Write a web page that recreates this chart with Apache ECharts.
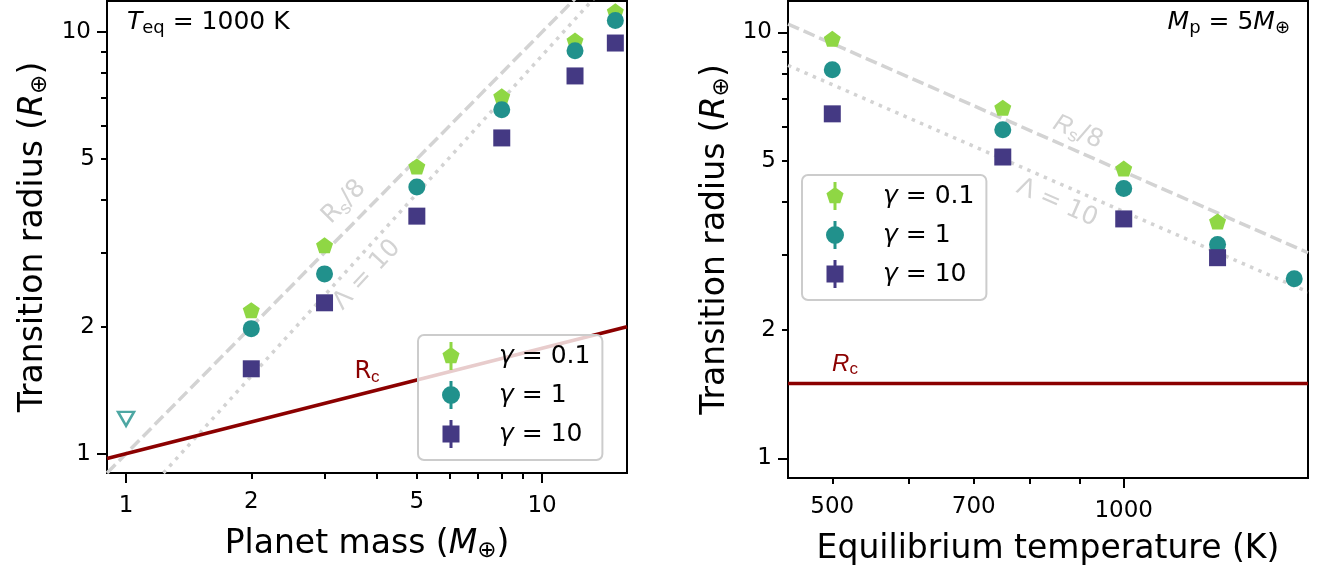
<!DOCTYPE html>
<html>
<head>
<meta charset="utf-8">
<script src="https://cdn.jsdelivr.net/npm/echarts@6/dist/echarts.min.js"></script>
<style>
html,body{margin:0;padding:0;background:#fff;}
#chart{width:1321px;height:571px;}
</style>
</head>
<body>
<div id="chart"></div>
<script>
// 左图: 行星质量
const massX = [2, 3, 5, 8, 12, 15];
const massG01 = [2.19, 3.12, 4.80, 7.04, 9.55, 11.2];
const massG1 = [1.98, 2.67, 4.29, 6.54, 9.03, 10.65];
const massG10 = [1.59, 2.28, 3.66, 5.61, 7.87, 9.42];
const limitX = [1];
const limitY = [1.21];
const rcMassX = [0.9, 16];
const rcMassY = [0.974, 2.0];
const rsMassX = [0.9, 12];
const rsMassY = [0.9, 12];
const lamMassX = [1.23, 13.3];
const lamMassY = [0.9, 12];

// 右图: 平衡温度
const tempX = [500, 750, 1000, 1250, 1500];
const tempG01 = [9.66, 6.66, 4.79, 3.60, null];
const tempG1 = [8.17, 5.91, 4.30, 3.18, 2.64];
const tempG10 = [6.44, 5.10, 3.65, 2.96, null];
const rcTempX = [450, 1550];
const rcTempY = [1.5, 1.5];
const rsTempX = [450, 1550];
const rsTempY = [10.46, 3.04];
const lamTempX = [450, 1550];
const lamTempY = [8.37, 2.46];

// 刻度
const massMajor = [1, 10];
const massMinor = [2, 3, 4, 5, 6, 7, 8, 9];
const massMinorLabels = [2, 5];
const tempMajor = [1000];
const tempMinor = [500, 600, 700, 800, 900];
const tempMinorLabels = [500, 700];
const radMajor = [1, 10];
const radMinor = [2, 3, 4, 5, 6, 7, 8, 9];
const radMinorLabels = [2, 5];

const FONT = 'DejaVu Sans';
const C01 = '#8fd744', C1 = '#21918c', C10 = '#443983';
const GRAY = '#d3d3d3', DARKRED = '#8b0000';

const lg = v => Math.log10(v);
function pairs(xs, ys){
    let out = [];
    for(let i=0;i<xs.length;i++){
        if(ys[i] != null) out.push([lg(xs[i]), lg(ys[i])]);
    }
    return out;
}

const rich = {
    i: {fontStyle:'italic', fontSize:25, fontFamily:FONT, color:'#000', lineHeight:30},
    s: {fontSize:18, fontFamily:FONT, color:'#000', verticalAlign:'bottom', lineHeight:14},
    bi: {fontStyle:'italic', fontSize:33, fontFamily:FONT, color:'#000', lineHeight:38},
    bs: {fontSize:23, fontFamily:FONT, color:'#000', verticalAlign:'bottom', lineHeight:16},
    g: {width:34},
};

function axis(gridIndex, pos, lo, hi, ticks, labels, tickLen, margin, extra){
    return Object.assign({
        type:'value',
        gridIndex:gridIndex,
        position:pos,
        min:lg(lo), max:lg(hi),
        axisLine:{show:false, onZero:false},
        splitLine:{show:false},
        axisTick:{show:true, length:tickLen, customValues:ticks.map(lg), lineStyle:{color:'#000', width:2}},
        axisLabel:{show:true, customValues:labels.map(lg), margin:margin, fontSize:23, fontFamily:FONT, color:'#000',
            formatter: v => String(Math.round(Math.pow(10, v)))},
    }, extra || {});
}

const nameStyle = {fontSize:33, fontFamily:FONT, color:'#000', lineHeight:38, rich:rich};

let myChart = echarts.init(document.getElementById('chart'));

const pentPath = 'path://M10 5 L18.56 11.22 L15.29 21.28 L4.71 21.28 L1.44 11.22 Z';
const pentLegend = 'path://M10 5 L18.56 11.22 L15.29 21.28 L4.71 21.28 L1.44 11.22 Z M8.5 0 L11.5 0 L11.5 28 L8.5 28 Z';
const circLegend = 'path://M1 14 A9 9 0 1 1 19 14 A9 9 0 1 1 1 14 Z M8.5 0 L11.5 0 L11.5 28 L8.5 28 Z';
const rectLegend = 'path://M1.5 5.5 L18.5 5.5 L18.5 22.5 L1.5 22.5 Z M8.5 0 L11.5 0 L11.5 28 L8.5 28 Z';

function scatter(name, xi, data, symbol, size, color){
    return {type:'scatter', name:name, xAxisIndex:xi, yAxisIndex:xi, data:data,
        symbol:symbol, symbolSize:size, itemStyle:{color:color, opacity:1}, z:3, silent:true};
}
function line(xi, data, color, width, type){
    return {type:'line', xAxisIndex:xi, yAxisIndex:xi, data:data, showSymbol:false, symbol:'none',
        lineStyle:{color:color, width:width, type:type, cap:'butt'}, z:2, silent:true};
}

const legendBase = {
    orient:'vertical', itemWidth:18, itemHeight:28, itemGap:11,
    backgroundColor:'rgba(255,255,255,0.8)', borderColor:'#cccccc', borderWidth:2, borderRadius:6,
    selectedMode:false, z:10,
    textStyle:{fontSize:25, fontFamily:FONT, color:'#000', rich:rich},
    formatter: name => '{g| }' + name.replace('γ', '{i|γ}'),
    data:[{name:'γ = 0.1', icon:pentLegend}, {name:'γ = 1', icon:circLegend}, {name:'γ = 10', icon:rectLegend}],
};

myChart.setOption({
    animation:false,
    textStyle:{fontFamily:FONT},
    grid:[
        {left:107, top:1, width:520, height:472, show:true, borderColor:'#000', borderWidth:2, containLabel:false, outerBoundsMode:'none'},
        {left:788, top:1, width:520, height:477, show:true, borderColor:'#000', borderWidth:2, containLabel:false, outerBoundsMode:'none'},
    ],
    xAxis:[
        axis(0, 'bottom', 0.9, 16, massMinor, massMinorLabels, 6, 18),
        axis(0, 'bottom', 0.9, 16, massMajor, massMajor, 10, 22,
            {name:'Planet mass ({bi|M}{bs|⊕})', nameLocation:'middle', nameGap:52, nameTextStyle:nameStyle}),
        axis(1, 'bottom', 450, 1550, tempMinor, tempMinorLabels, 6, 18),
        axis(1, 'bottom', 450, 1550, tempMajor, tempMajor, 10, 22,
            {name:'Equilibrium temperature (K)', nameLocation:'middle', nameGap:52, nameTextStyle:nameStyle}),
    ],
    yAxis:[
        axis(0, 'left', 0.9, 11.85, radMinor, radMinorLabels, 6, 12),
        axis(0, 'left', 0.9, 11.85, radMajor, radMajor, 10, 16,
            {name:'Transition radius ({bi|R}{bs|⊕})', nameLocation:'middle', nameGap:55, nameTextStyle:nameStyle}),
        axis(1, 'left', 0.9, 11.85, radMinor, radMinorLabels, 6, 12),
        axis(1, 'left', 0.9, 11.85, radMajor, radMajor, 10, 16,
            {name:'Transition radius ({bi|R}{bs|⊕})', nameLocation:'middle', nameGap:54, nameTextStyle:nameStyle}),
    ],
    legend:[
        Object.assign({left:418, top:335, padding:[7, 12, 12, 24]}, legendBase),
        Object.assign({left:802, top:175, padding:[7, 12, 12, 24]}, legendBase),
    ],
    graphic:[
        {type:'text', x:127, y:22, style:{text:'{i|T}{s|eq} = 1000 K', fill:'#000', fontSize:25, fontFamily:FONT, verticalAlign:'middle', rich:rich}},
        {type:'text', x:1290, y:22, style:{text:'{i|M}{s|p} = 5{i|M}{s|⊕}', fill:'#000', fontSize:25, fontFamily:FONT, align:'right', verticalAlign:'middle', rich:rich}},
        {type:'text', x:367, y:372, style:{text:'R{r|c}', fill:DARKRED, fontSize:24, fontFamily:FONT, align:'center', verticalAlign:'middle',
            lineHeight:28, rich:{r:{fontSize:17, fill:DARKRED, verticalAlign:'bottom', lineHeight:14}}}},
        {type:'text', x:845, y:364, style:{text:'{a|R}{r|c}', fill:DARKRED, fontSize:24, fontFamily:FONT, align:'center', verticalAlign:'middle',
            lineHeight:28, rich:{a:{fontStyle:'italic', fontSize:24, fill:DARKRED, lineHeight:28}, r:{fontSize:17, fill:DARKRED, verticalAlign:'bottom', lineHeight:14}}}},
        {type:'text', x:344, y:202, rotation:45*Math.PI/180, style:{text:'R{r|s}/8', fill:GRAY, fontSize:25, fontFamily:FONT, align:'center', verticalAlign:'middle',
            lineHeight:30, rich:{r:{fontSize:18, fill:GRAY, verticalAlign:'bottom', lineHeight:14}}}},
        {type:'text', x:367, y:275, rotation:47*Math.PI/180, style:{text:'Λ = 10', fill:GRAY, fontSize:25, fontFamily:FONT, align:'center', verticalAlign:'middle'}},
        {type:'text', x:1078, y:132, rotation:-23.7*Math.PI/180, style:{text:'{a|R}{r|s}/8', fill:GRAY, fontSize:25, fontFamily:FONT, align:'center', verticalAlign:'middle',
            lineHeight:30, rich:{a:{fontStyle:'italic', fontSize:25, fill:GRAY, lineHeight:30}, r:{fontSize:18, fill:GRAY, verticalAlign:'bottom', lineHeight:14}}}},
        {type:'text', x:1057, y:203, rotation:-23.7*Math.PI/180, style:{text:'Λ = 10', fill:GRAY, fontSize:25, fontFamily:FONT, align:'center', verticalAlign:'middle'}},
    ],
    series:[
        line(0, pairs(rsMassX, rsMassY), GRAY, 3.5, [12, 5]),
        line(0, pairs(lamMassX, lamMassY), GRAY, 3.5, [3.5, 5.5]),
        line(0, pairs(rcMassX, rcMassY), DARKRED, 3.5, 'solid'),
        scatter('γ = 0.1', 0, pairs(massX, massG01), pentPath, [17, 16], C01),
        scatter('γ = 1', 0, pairs(massX, massG1), 'circle', 17, C1),
        scatter('γ = 10', 0, pairs(massX, massG10), 'rect', 17, C10),
        {type:'scatter', xAxisIndex:0, yAxisIndex:0, data:pairs(limitX, limitY), symbol:'triangle', symbolRotate:180,
            symbolSize:[16, 14], itemStyle:{color:'#fff', borderColor:C1, borderWidth:2.5}, z:3, silent:true},

        line(2, pairs(rsTempX, rsTempY), GRAY, 3.5, [12, 5]),
        line(2, pairs(lamTempX, lamTempY), GRAY, 3.5, [3.5, 5.5]),
        line(2, pairs(rcTempX, rcTempY), DARKRED, 3.5, 'solid'),
        scatter('γ = 0.1', 2, pairs(tempX, tempG01), pentPath, [17, 16], C01),
        scatter('γ = 1', 2, pairs(tempX, tempG1), 'circle', 17, C1),
        scatter('γ = 10', 2, pairs(tempX, tempG10), 'rect', 17, C10),
    ]
});
</script>
</body>
</html>
